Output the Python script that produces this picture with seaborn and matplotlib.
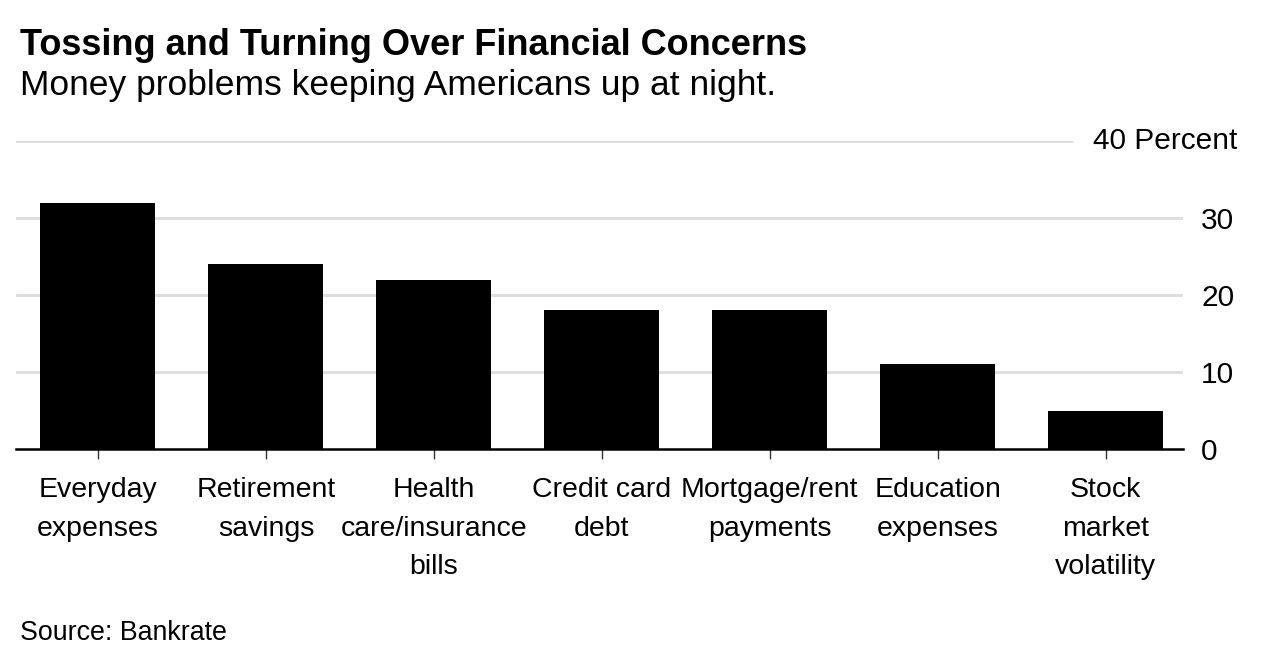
import matplotlib
matplotlib.use("Agg")
import matplotlib.pyplot as plt
import matplotlib.transforms as mtransforms
import seaborn as sns
import pandas as pd

categories = ["Everyday\nexpenses", "Retirement\nsavings", "Health\ncare/insurance\nbills",
              "Credit card\ndebt", "Mortgage/rent\npayments", "Education\nexpenses",
              "Stock\nmarket\nvolatility"]
values = [32, 24, 22, 18, 18, 11, 5]
yticks = [0, 10, 20, 30, 40]
title = "Tossing and Turning Over Financial Concerns"
subtitle = "Money problems keeping Americans up at night."
source = "Source: Bankrate"

sns.set_theme(style="white")
plt.rcParams['font.family'] = ['Liberation Sans', 'DejaVu Sans']

W, H = 1282, 670
fig = plt.figure(figsize=(W / 100, H / 100), dpi=100)
ax = fig.add_axes([16 / W, 1 - 449 / H, (1183 - 16) / W, (449 - 141) / H])

df = pd.DataFrame({"cat": categories, "val": values})
sns.barplot(data=df, x="cat", y="val", color="black", width=0.685, ax=ax,
            saturation=1, edgecolor="none", zorder=3)
for p in ax.patches:
    p.set_facecolor("black")

ax.set_ylim(0, 40)
ax.set_xlim(-0.488, 6.46)
ax.set_xlabel("")
ax.set_ylabel("")

# gridlines
for t in yticks[1:]:
    xmax = (1072 - 16) / (1183 - 16) if t == 40 else 1.0
    ax.axhline(t, xmin=0, xmax=xmax, color="#dcdcdc", lw=2.0, zorder=1)

for s in ["top", "left", "right"]:
    ax.spines[s].set_visible(False)
ax.spines["bottom"].set_color("black")
ax.spines["bottom"].set_linewidth(1.8)
ax.spines["bottom"].set_zorder(4)

ax.yaxis.tick_right()
ax.set_yticks(yticks)
ax.set_yticklabels([str(t) if t != 40 else "" for t in yticks])
ax.tick_params(axis="y", length=0, pad=13, labelsize=21.5, labelcolor="black")
for lbl in ax.get_yticklabels():
    lbl.set_horizontalalignment("left")
trans = mtransforms.blended_transform_factory(fig.transFigure, ax.transData)
ax.text(1237 / W, 40, "40 Percent", transform=trans, ha="right", va="center",
        fontsize=21.5, color="black")

ax.tick_params(axis="x", length=7.2, width=1, color="#333333", pad=13,
               labelsize=20.5, labelcolor="black", bottom=True)
for lbl in ax.get_xticklabels():
    lbl.set_linespacing(1.63)

fig.text(20 / W, 1 - 55 / H, title, fontsize=26, fontweight="bold", ha="left",
         va="baseline", color="black")
fig.text(20 / W, 1 - 95 / H, subtitle, fontsize=25.5, ha="left", va="baseline",
         color="black")
fig.text(20 / W, 1 - 640 / H, source, fontsize=19.3, ha="left", va="baseline",
         color="black")

fig.savefig("out.png", dpi=100, facecolor="white")
